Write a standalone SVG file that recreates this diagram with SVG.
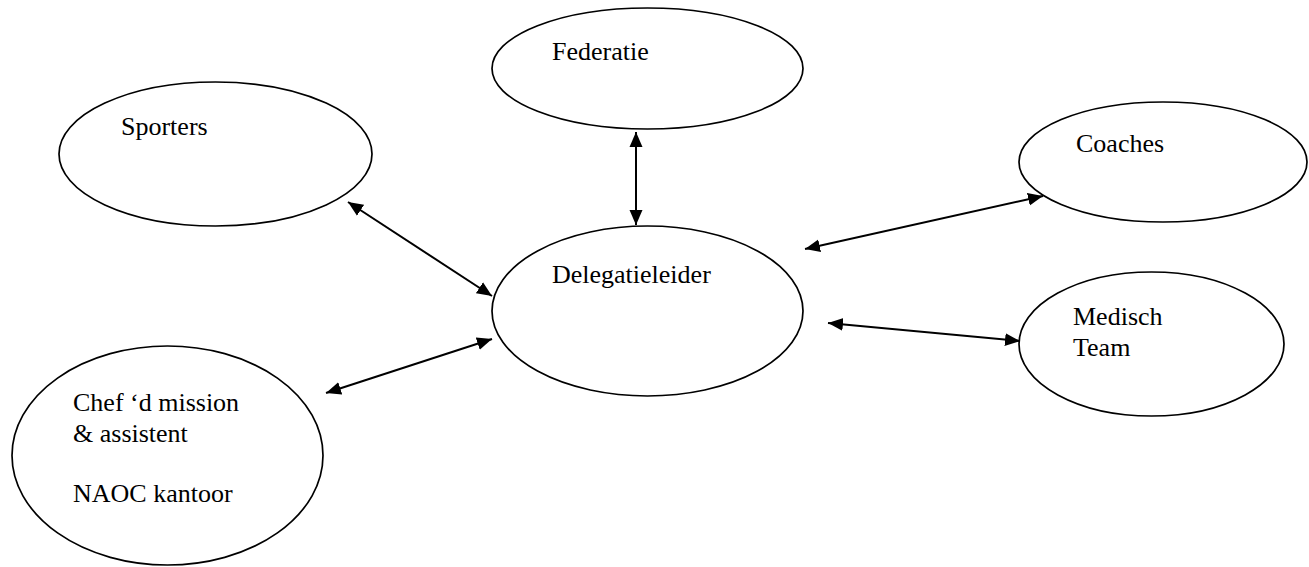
<svg xmlns="http://www.w3.org/2000/svg" width="1309" height="567" viewBox="0 0 1309 567">
<style>
.node ellipse{fill:#fff;stroke:#000;stroke-width:1.7}
.node text{font-family:"Liberation Serif","Times New Roman",serif;font-size:26px;fill:#000}
.conn line{stroke:#000;stroke-width:2;marker-start:url(#ah);marker-end:url(#ah)}
</style>
<defs>
<marker id="ah" markerUnits="userSpaceOnUse" markerWidth="16" markerHeight="14" refX="15" refY="7" orient="auto-start-reverse" viewBox="0 0 16 14">
<path d="M0,0.5 L15,7 L0,13.5 z" fill="#000"/>
</marker>
</defs>
<rect width="1309" height="567" fill="#fff"/>
<g id="federatie" class="node">
<ellipse cx="647.5" cy="68.5" rx="155.5" ry="60.5"/>
<text x="552" y="60">Federatie</text>
</g>
<g id="sporters" class="node">
<ellipse cx="215.5" cy="154" rx="156.5" ry="72"/>
<text x="121" y="135">Sporters</text>
</g>
<g id="coaches" class="node">
<ellipse cx="1163" cy="162" rx="144" ry="60"/>
<text x="1076" y="152">Coaches</text>
</g>
<g id="delegatieleider" class="node">
<ellipse cx="647.5" cy="311" rx="155.5" ry="85"/>
<text x="552" y="283">Delegatieleider</text>
</g>
<g id="medisch" class="node">
<ellipse cx="1151.5" cy="344" rx="132.5" ry="72"/>
<text x="1073" y="325">Medisch</text>
<text x="1073" y="356">Team</text>
</g>
<g id="chef" class="node">
<ellipse cx="167.5" cy="455.5" rx="155.5" ry="109.5"/>
<text x="73" y="411">Chef ‘d mission</text>
<text x="73" y="442">&amp; assistent</text>
<text x="73" y="502">NAOC kantoor</text>
</g>
<g id="connectors" class="conn">
<line x1="636" y1="132" x2="636" y2="225"/>
<line x1="348" y1="202" x2="492" y2="296"/>
<line x1="326" y1="393" x2="492" y2="339"/>
<line x1="805" y1="249" x2="1043" y2="196"/>
<line x1="828" y1="323" x2="1020" y2="341"/>
</g>
</svg>
